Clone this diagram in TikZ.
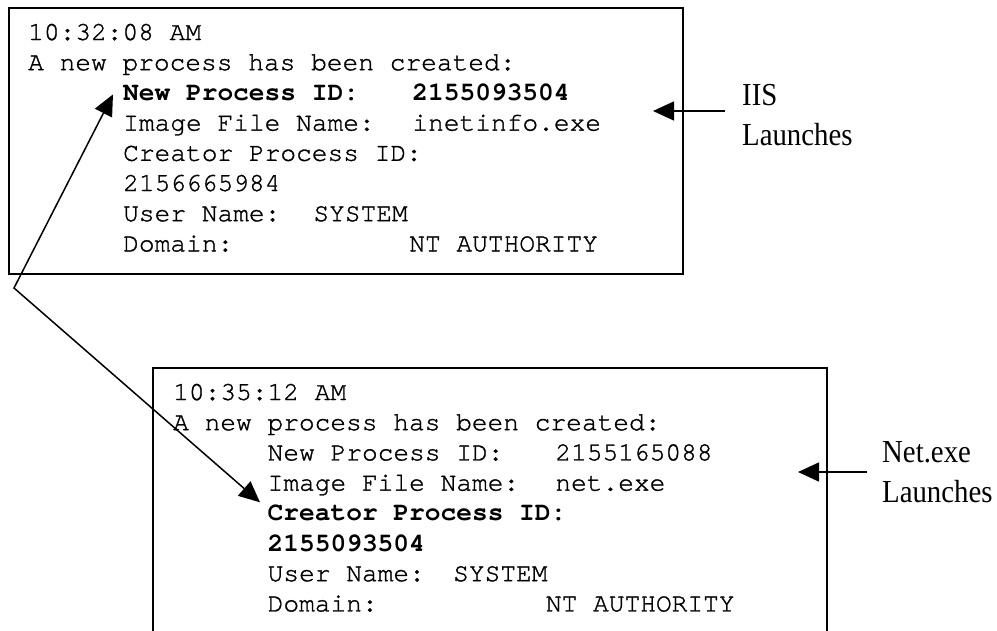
\documentclass[tikz,border=0pt]{standalone}
\usepackage{fontspec}
\setmainfont{Liberation Serif}
\newfontfamily\calloutfont[FakeStretch=0.9]{Liberation Serif}
\newfontfamily\courier{texgyrecursor}[Extension=.otf, UprightFont=*-regular, BoldFont=*-bold, UprightFeatures={FakeBold=1.2}]
\usetikzlibrary{arrows.meta}
\newlength\cw
\setlength\cw{15.72pt}
\tikzset{
  logline/.style={anchor=base west, inner sep=0pt, font=\courier\fontsize{26.2}{30}\selectfont},
  logbox/.style={line width=2pt},
  pointer/.style={line width=1.5pt},
  callout/.style={anchor=base west, inner sep=0pt, align=left, font=\calloutfont\fontsize{32}{40}\selectfont},
  >={Triangle[length=21pt,width=19pt]}
}
\begin{document}
\begin{tikzpicture}[x=1pt,y=-1pt]
      \useasboundingbox (0,0) rectangle (997,630);
      \def \TopLines{
        1/28/{10:32:08 AM},
        2/28/{A new process has been created:},
        3/123/{\bfseries New Process ID:\hspace*{3.4\cw}2155093504},
        4/123/{Image File Name:\hspace*{2.4\cw}inetinfo.exe},
        5/123/{Creator Process ID:},
        6/123/{2156665984},
        7/123/{User Name:\hspace*{2.1\cw}SYSTEM},
        8/123/{Domain:\hspace*{11.2\cw}NT AUTHORITY}}
      \def \BotLines{
        1/173/{10:35:12 AM},
        2/173/{A new process has been created:},
        3/267.5/{New Process ID:\hspace*{3.3\cw}2155165088},
        4/267.5/{Image File Name:\hspace*{2.3\cw}net.exe},
        5/267.5/{\bfseries Creator Process ID:},
        6/267.5/{\bfseries 2155093504},
        7/267.5/{User Name:\hspace*{1.8\cw}SYSTEM},
        8/267.5/{Domain:\hspace*{10.7\cw}NT AUTHORITY}}
      \draw[logbox] (9,8) rectangle (683,274);
      \draw[logbox] (153,632) -- (153,368) -- (827,368) -- (827,632);
      \foreach \id / \x / \txt in \TopLines{
        \node[logline] (top-\id) at (\x, {40+30.2*(\id-1)}) {\txt};
      }
      \foreach \id / \x / \txt in \BotLines{
        \node[logline] (bot-\id) at (\x, {400+30.2*(\id-1)}) {\txt};
      }
      % base anchor sits on the last line
      \node[callout] (iis) at (742,145) {IIS\\Launches};
      \node[callout] (netexe) at (882,502) {Net.exe\\Launches};
      \coordinate (bend) at (14,288);
      \coordinate (pidTip) at ([xshift=-10pt,yshift=6pt]top-3.base west);
      \coordinate (creatorTip) at ([xshift=-7.5pt,yshift=18.5pt]bot-5.base west);
      \coordinate (iisTip) at (653,111);
      \coordinate (netTip) at (798,472);
      \path[draw,pointer,<->] (pidTip) -- (bend) -- (creatorTip);
      \path[draw,pointer,->] ([xshift=-17pt,yshift=34pt]iis.base west) -- (iisTip);
      \path[draw,pointer,->] ([xshift=-15pt,yshift=30pt]netexe.base west) -- (netTip);
    \end{tikzpicture}
\end{document}
